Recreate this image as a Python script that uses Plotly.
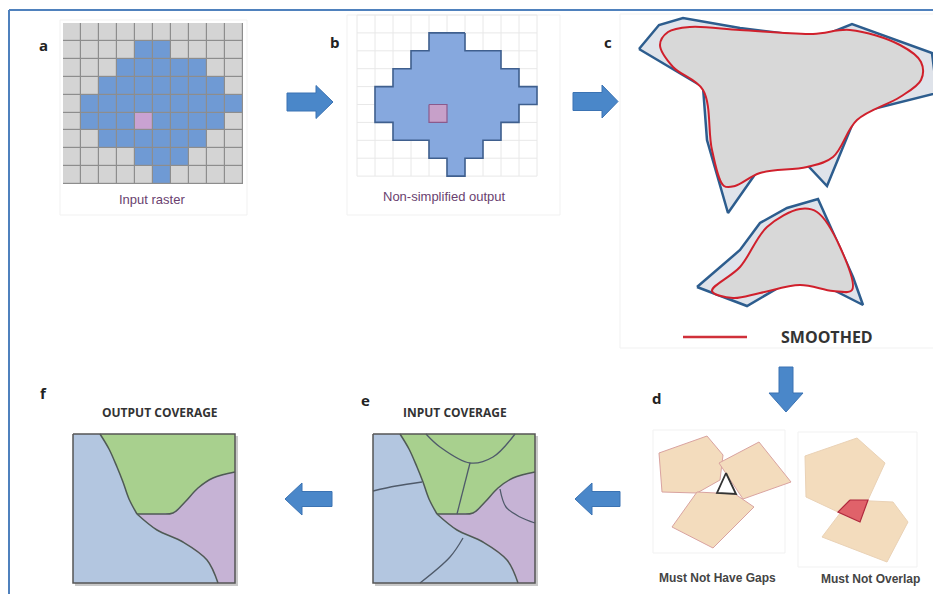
import plotly.graph_objects as go

W, H = 941, 594
PAGE_MARGIN = 8  # browser body margin, compensated through the axis ranges

# ---------------- data ----------------
# raster mask (panel a / b): 0 = background, 1 = region, 2 = center cell
raster_mask = [
    [0, 0, 0, 0, 0, 0, 0, 0, 0, 0],
    [0, 0, 0, 0, 1, 1, 0, 0, 0, 0],
    [0, 0, 0, 1, 1, 1, 1, 1, 0, 0],
    [0, 0, 1, 1, 1, 1, 1, 1, 1, 0],
    [0, 1, 1, 1, 1, 1, 1, 1, 1, 1],
    [0, 1, 1, 1, 2, 1, 1, 1, 1, 0],
    [0, 0, 1, 1, 1, 1, 1, 1, 0, 0],
    [0, 0, 0, 0, 1, 1, 1, 0, 0, 0],
    [0, 0, 0, 0, 0, 1, 0, 0, 0, 0],
]

# panel c: polygons (original = blue, smoothed = red)
c_top_blue_x = [639, 659, 683, 740, 813, 830, 852, 932, 937, 857, 827, 795, 763, 728, 707, 703, 639]
c_top_blue_y = [49, 25, 18, 28, 37, 33, 24, 53, 93, 113, 186, 152, 163, 213, 140, 87, 49]
c_top_red_x = [660, 668, 690, 740, 813, 850, 900, 921, 921, 900, 857, 833, 807, 760, 735, 724, 712, 703, 673, 660]
c_top_red_y = [45, 32, 27, 30, 34, 30, 45, 62, 80, 97, 120, 157, 167, 173, 186, 186, 150, 90, 67, 45]
c_bot_blue_x = [697, 740, 760, 787, 818, 853, 863, 802, 747, 697]
c_bot_blue_y = [287, 250, 223, 208, 199, 277, 305, 274, 306, 287]
c_bot_red_x = [712, 740, 767, 800, 817, 840, 852, 833, 800, 760, 733, 712]
c_bot_red_y = [291, 267, 227, 209, 212, 247, 290, 291, 285, 293, 298, 291]

# panel d: topology rule examples
gap_hex_x = [659, 707, 723, 720, 697, 662]
gap_hex_y = [453, 436, 455, 480, 493, 492]
gap_quad_x = [719, 759, 791, 743]
gap_quad_y = [463, 442, 482, 499]
gap_pent_x = [697, 735, 754, 713, 672]
gap_pent_y = [492, 494, 507, 548, 527]
gap_tri_x = [726, 717, 736]
gap_tri_y = [473, 493, 494]
ovl_top_x = [805, 857, 885, 868, 838, 806]
ovl_top_y = [456, 438, 463, 500, 512, 497]
ovl_bot_x = [850, 893, 908, 887, 822]
ovl_bot_y = [500, 502, 522, 562, 537]
ovl_int_x = [850, 868, 860, 838]
ovl_int_y = [500, 500, 522, 512]

# panels e / f: coverage regions (relative to box, box 162 x 149)
cov_green_x = [27, 36, 44, 50, 56, 64, 85, 100, 112, 125, 140, 162, 162]
cov_green_y = [0, 15, 33, 48, 65, 80, 80, 79, 68, 54, 44, 38, 0]
cov_purple_x = [64, 84, 110, 134, 145, 162, 162, 140, 125, 112, 100, 85]
cov_purple_y = [80, 96, 108, 126, 149, 149, 38, 44, 54, 68, 79, 80]
cov_gb_x = [27, 36, 44, 50, 56, 64]          # green / blue boundary
cov_gb_y = [0, 15, 33, 48, 65, 80]
cov_gp_x = [64, 85, 100, 112, 125, 140, 162]  # green / purple boundary
cov_gp_y = [80, 80, 79, 68, 54, 44, 38]
cov_pb_x = [64, 84, 110, 134, 145]            # purple / blue boundary
cov_pb_y = [80, 96, 108, 126, 149]
# extra input-coverage divisions (panel e)
in_line1_x = [0, 23, 49]
in_line1_y = [57, 52, 48]
in_line2_x = [53, 67, 97, 120, 142]
in_line2_y = [0, 13, 29, 23, 0]
in_line3_x = [97, 84]
in_line3_y = [29, 80]
in_line4_x = [127, 133, 147, 162]
in_line4_y = [55, 73, 83, 89]
in_line5_x = [90, 77, 47]
in_line5_y = [104, 123, 149]

# ---------------- figure ----------------
fig = go.Figure()
shapes = []


def poly(xs, ys, fill, line="rgba(0,0,0,0)", width=0, spline=False, close=True):
    xs = list(xs)
    ys = list(ys)
    if close and (xs[0] != xs[-1] or ys[0] != ys[-1]):
        xs.append(xs[0])
        ys.append(ys[0])
    fig.add_trace(go.Scatter(
        x=xs, y=ys, mode="lines", fill="toself" if fill else None, fillcolor=fill,
        line=dict(color=line, width=width, shape="spline" if spline else "linear", smoothing=1.0),
        hoverinfo="skip", showlegend=False))


def line(xs, ys, color, width, spline=False, dash=None):
    fig.add_trace(go.Scatter(
        x=list(xs), y=list(ys), mode="lines",
        line=dict(color=color, width=width, shape="spline" if spline else "linear", dash=dash),
        hoverinfo="skip", showlegend=False))


def text(x, y, s, size, color="#222", family="Open Sans, sans-serif", bold=False):
    fig.add_annotation(x=x, y=y, text=("<b>%s</b>" % s) if bold else s, showarrow=False,
                       font=dict(size=size, color=color, family=family),
                       xanchor="center", yanchor="middle")


def arrow(x_tail, x_tip, yc, head, sh, hh, vertical=False):
    d = 1 if x_tip > x_tail else -1
    xb = x_tip - d * head
    px = [x_tail, xb, xb, x_tip, xb, xb, x_tail]
    py = [yc - sh, yc - sh, yc - hh, yc, yc + hh, yc + sh, yc + sh]
    if vertical:
        px, py = py, px
    poly(px, py, "#4a87c9", "#3b73b3", 1)


# faint panel frames
for (x0, y0, x1, y1) in [(60, 20, 247, 215), (347, 15, 560, 215), (620, 14, 945, 348),
                         (653, 430, 785, 553), (798, 432, 917, 567)]:
    shapes.append(dict(type="rect", x0=x0, y0=y0, x1=x1, y1=y1, xref="x", yref="y",
                       line=dict(color="#f1f1f1", width=1), fillcolor="rgba(0,0,0,0)", layer="below"))

# ---- panel a: input raster (heatmap) ----
ax0, ay0, cw, chh = 63, 23, 18, 17.9
nrow, ncol = len(raster_mask), len(raster_mask[0])
shapes.append(dict(type="rect", x0=ax0, y0=ay0, x1=ax0 + ncol * cw, y1=ay0 + nrow * chh,
                   xref="x", yref="y", line=dict(width=0), fillcolor="#8d8d8d", layer="below"))
fig.add_trace(go.Heatmap(
    z=raster_mask,
    x=[ax0 + cw * (i + 0.5) for i in range(ncol)],
    y=[ay0 + chh * (j + 0.5) for j in range(nrow)],
    zmin=0, zmax=2,
    colorscale=[[0, "#d4d4d4"], [0.333, "#d4d4d4"], [0.334, "#6f9ad4"], [0.666, "#6f9ad4"],
                [0.667, "#c9a2d2"], [1, "#c9a2d2"]],
    showscale=False, xgap=1.2, ygap=1.2, hoverinfo="skip"))
text(152, 199, "Input raster", 13, "#6a3f6f", "Liberation Sans, Arial")
text(43, 45, "a", 15, "#222", "Open Sans", bold=True)

# ---- panel b: non-simplified output ----
bx0, by0 = 357, 15
for i in range(ncol + 1):
    line([bx0 + i * cw, bx0 + i * cw], [by0, by0 + nrow * chh], "#e8e8e8", 1)
for j in range(nrow + 1):
    line([bx0, bx0 + ncol * cw], [by0 + j * chh, by0 + j * chh], "#e8e8e8", 1)
rows = [(r, [c for c, v in enumerate(raster_mask[r]) if v > 0]) for r in range(nrow)]
rows = [(r, min(cs), max(cs)) for r, cs in rows if cs]
ox, oy = [], []
for r, lo, hi in rows:
    ox += [bx0 + (hi + 1) * cw, bx0 + (hi + 1) * cw]
    oy += [by0 + r * chh, by0 + (r + 1) * chh]
for r, lo, hi in reversed(rows):
    ox += [bx0 + lo * cw, bx0 + lo * cw]
    oy += [by0 + (r + 1) * chh, by0 + r * chh]
poly(ox, oy, "#86a8de", "#3f5f8e", 1.6)
for r in range(nrow):
    for c in range(ncol):
        if raster_mask[r][c] == 2:
            poly([bx0 + c * cw, bx0 + (c + 1) * cw, bx0 + (c + 1) * cw, bx0 + c * cw],
                 [by0 + r * chh, by0 + r * chh, by0 + (r + 1) * chh, by0 + (r + 1) * chh],
                 "#c7a0c9", "#8a5a8c", 1.2)
text(444, 196, "Non-simplified output", 13, "#6a3f6f", "Liberation Sans, Arial")
text(335, 42, "b", 15, "#222", "Open Sans", bold=True)

# ---- panel c: smoothing ----
poly(c_top_blue_x, c_top_blue_y, "#dfe3ea", "#2d5d8e", 2.5)
poly(c_top_red_x, c_top_red_y, "#d8d8d8", "#d0202c", 2, spline=True)
poly(c_bot_blue_x, c_bot_blue_y, "#dfe3ea", "#2d5d8e", 2.5)
poly(c_bot_red_x, c_bot_red_y, "#d8d8d8", "#d0202c", 2, spline=True)
line([683, 747], [337, 337], "#d0303a", 2.5)
text(827, 337, "SMOOTHED", 16, "#333", "Open Sans", bold=True)
text(608, 42, "c", 15, "#222", "Open Sans", bold=True)

# ---- panel d: topology ----
tan = "#f3dcbd"
poly(gap_hex_x, gap_hex_y, tan, "#d9a3a0", 1)
poly(gap_quad_x, gap_quad_y, tan, "#d9a3a0", 1)
poly(gap_pent_x, gap_pent_y, tan, "#d9a3a0", 1)
poly(gap_tri_x, gap_tri_y, "#ffffff", "#333333", 1.8)
poly(ovl_top_x, ovl_top_y, tan, "#ead2b6", 1)
poly(ovl_bot_x, ovl_bot_y, tan, "#ead2b6", 1)
poly(ovl_int_x, ovl_int_y, "#e0626a", "#b02a3e", 1.2)
text(717, 578, "<b>Must Not Have Gaps</b>", 12, "#444", "Liberation Sans Narrow, Arial Narrow, sans-serif")
text(870, 579, "<b>Must Not Overlap</b>", 12, "#444", "Liberation Sans Narrow, Arial Narrow, sans-serif")
text(657, 398, "d", 15, "#222", "Open Sans", bold=True)

# ---- panels e / f: coverage ----
def coverage(bx, by, extra):
    shapes.append(dict(type="rect", x0=bx + 2, y0=by + 2, x1=bx + 165, y1=by + 152, xref="x", yref="y",
                       line=dict(width=0), fillcolor="#c8c8c8", layer="below"))
    poly([bx, bx + 162, bx + 162, bx], [by, by, by + 149, by + 149], "#b3c6e0")
    poly([bx + v for v in cov_green_x], [by + v for v in cov_green_y], "#a8d08e")
    poly([bx + v for v in cov_purple_x], [by + v for v in cov_purple_y], "#c6b3d5")
    for lx, ly in [(cov_gb_x, cov_gb_y), (cov_gp_x, cov_gp_y), (cov_pb_x, cov_pb_y)]:
        line([bx + v for v in lx], [by + v for v in ly], "#4f5a55", 1.5, spline=True)
    if extra:
        for lx, ly in [(in_line1_x, in_line1_y), (in_line2_x, in_line2_y), (in_line3_x, in_line3_y),
                       (in_line4_x, in_line4_y), (in_line5_x, in_line5_y)]:
            line([bx + v for v in lx], [by + v for v in ly], "#4f5a6a", 1.3, spline=True)
    poly([bx, bx + 162, bx + 162, bx], [by, by, by + 149, by + 149], None, "#555555", 1.5)


coverage(373, 434, True)
coverage(73, 434, False)
text(455, 412, "INPUT COVERAGE", 12, "#333", "Open Sans", bold=True)
text(160, 412, "OUTPUT COVERAGE", 12, "#333", "Open Sans", bold=True)
text(365, 400, "e", 15, "#222", "Open Sans", bold=True)
text(43, 393, "f", 15, "#222", "Open Sans", bold=True)

# ---- arrows ----
arrow(287, 333, 102, 17, 9, 16.5)
arrow(573, 618, 101.5, 16, 9, 16.5)
arrow(367, 412, 786, 19, 7, 17, vertical=True)
arrow(620, 575, 499, 17, 7.5, 16)
arrow(332, 285, 499, 17, 7.5, 16)

# ---- outer frame ----
line([9, W + 20], [10, 10], "#4f81bd", 2)
line([9, 9], [10, H + 20], "#4f81bd", 2)

fig.update_layout(
    width=W, height=H, margin=dict(l=0, r=0, t=0, b=0),
    paper_bgcolor="white", plot_bgcolor="white",
    xaxis=dict(range=[PAGE_MARGIN, W + PAGE_MARGIN], visible=False, fixedrange=True),
    yaxis=dict(range=[H + PAGE_MARGIN, PAGE_MARGIN], visible=False, fixedrange=True),
    shapes=shapes, showlegend=False,
)
fig.write_html("out.html")
